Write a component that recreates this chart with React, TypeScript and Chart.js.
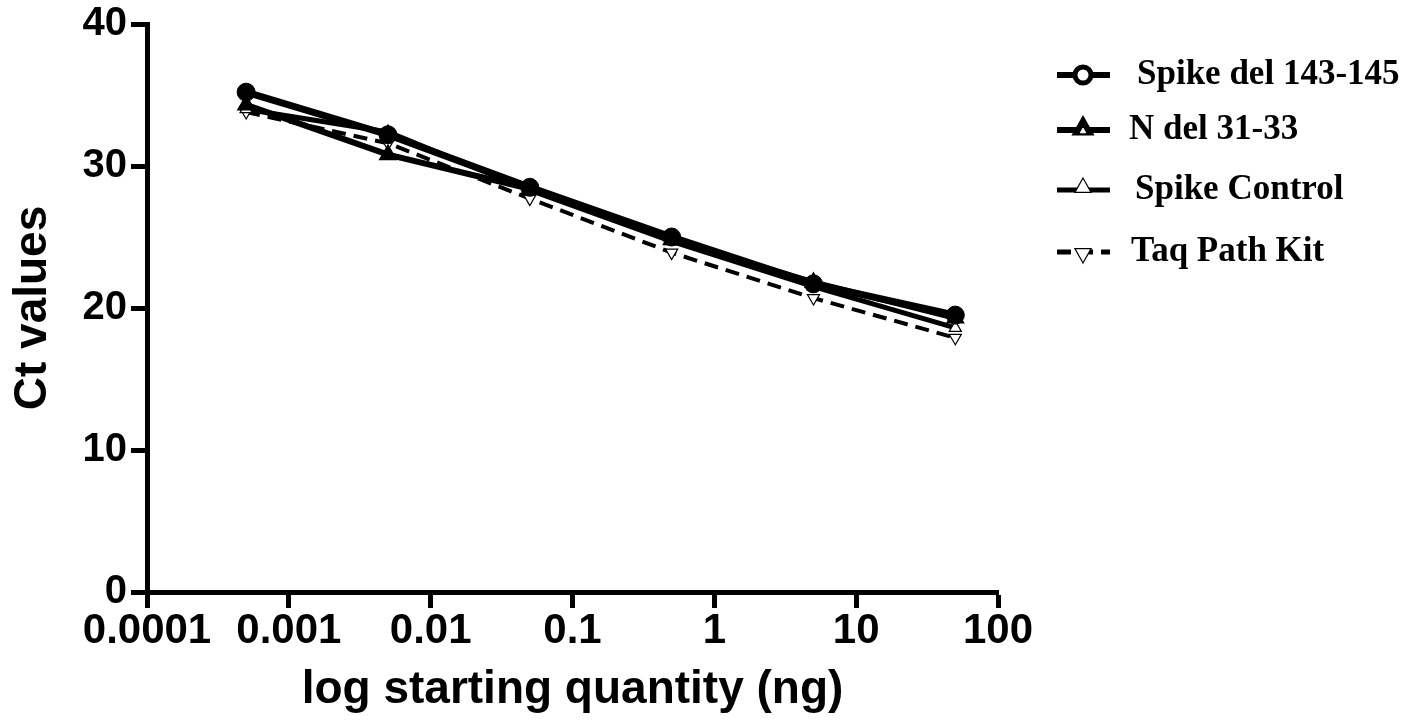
import React, { useEffect, useRef } from "react";
import { Chart, registerables } from "chart.js";

Chart.register(...registerables);

// ---- data ----
const quantities = [0.0005, 0.005, 0.05, 0.5, 5, 50];
const spikeDel = [35.2, 32.2, 28.5, 25.0, 21.7, 19.5];
const nDel = [34.3, 30.8, 28.4, 24.8, 21.8, 19.3];
const spikeControl = [34.0, 32.4, 28.3, 24.7, 21.5, 18.6];
const taqPath = [33.8, 31.6, 27.7, 23.9, 20.7, 17.9];

const seriesLabels = ["Spike del 143-145", "N del 31-33", "Spike Control", "Taq Path Kit"];
const xTickValues = [0.0001, 0.001, 0.01, 0.1, 1, 10, 100];
const yTickValues = [0, 10, 20, 30, 40];
const xTitle = "log starting quantity (ng)";
const yTitle = "Ct values";

const toPoints = (ys: number[]) => quantities.map((x, i) => ({ x, y: ys[i] }));

const SANS = '"Liberation Sans", Arial, sans-serif';
const SERIF = '"Liberation Serif", "Times New Roman", serif';

function drawTriangle(ctx: CanvasRenderingContext2D, x: number, y: number, r: number, down: boolean, fill: string, stroke: string, lw: number) {
  const s = down ? -1 : 1;
  ctx.beginPath();
  ctx.moveTo(x, y - s * r);
  ctx.lineTo(x + r * 0.9, y + s * r * 0.6);
  ctx.lineTo(x - r * 0.9, y + s * r * 0.6);
  ctx.closePath();
  ctx.fillStyle = fill;
  ctx.fill();
  ctx.lineWidth = lw;
  ctx.strokeStyle = stroke;
  ctx.stroke();
}

const legendPlugin = {
  id: "customLegend",
  afterDraw(chart: any) {
    const ctx: CanvasRenderingContext2D = chart.ctx;
    const rows = [75, 130, 190, 252];
    const textX = [1137, 1129, 1135, 1131];
    const x0 = 1057;
    const x1 = 1110;
    const xm = 1083;
    ctx.save();
    ctx.lineCap = "butt";
    rows.forEach((y, i) => {
      ctx.strokeStyle = "#000";
      ctx.setLineDash(i === 3 ? [14, 8] : []);
      ctx.lineWidth = i === 3 ? 5 : i === 2 ? 5 : 6;
      ctx.beginPath();
      ctx.moveTo(x0, y);
      ctx.lineTo(x1, y);
      ctx.stroke();
      ctx.setLineDash([]);
      if (i === 0) {
        ctx.beginPath();
        ctx.arc(xm, y, 8, 0, Math.PI * 2);
        ctx.fillStyle = "#fff";
        ctx.fill();
        ctx.lineWidth = 5;
        ctx.strokeStyle = "#000";
        ctx.stroke();
      } else if (i === 1) {
        drawTriangle(ctx, xm, y - 2, 10, false, "#000", "#000", 3);
        drawTriangle(ctx, xm, y + 1, 3, false, "#fff", "#fff", 1);
      } else if (i === 2) {
        drawTriangle(ctx, xm, y - 3, 9, false, "#fff", "#000", 1.2);
      } else {
        drawTriangle(ctx, xm, y + 2, 9, true, "#fff", "#000", 1.2);
      }
      ctx.fillStyle = "#000";
      ctx.font = `bold 35px ${SERIF}`;
      ctx.textBaseline = "middle";
      ctx.textAlign = "left";
      ctx.fillText(seriesLabels[i], textX[i], y);
    });
    ctx.restore();
  },
};

export default function App() {
  const ref = useRef<HTMLCanvasElement>(null);

  useEffect(() => {
    document.body.style.margin = "0";
    Chart.defaults.color = "#000";
    const canvas = ref.current!;
    const chart = new Chart(canvas, {
      type: "line",
      data: {
        datasets: [
          {
            label: seriesLabels[0],
            data: toPoints(spikeDel),
            borderColor: "#000",
            borderWidth: 7,
            pointStyle: "circle",
            pointRadius: 9,
            pointBackgroundColor: "#000",
            pointBorderColor: "#000",
            pointBorderWidth: 1,
            tension: 0,
          },
          {
            label: seriesLabels[1],
            data: toPoints(nDel),
            borderColor: "#000",
            borderWidth: 6,
            pointStyle: "triangle",
            pointRadius: 9,
            pointBackgroundColor: "#000",
            pointBorderColor: "#000",
            pointBorderWidth: 2,
            tension: 0,
          },
          {
            label: seriesLabels[2],
            data: toPoints(spikeControl),
            borderColor: "#000",
            borderWidth: 5,
            pointStyle: "triangle",
            pointRadius: 7,
            pointBackgroundColor: "#fff",
            pointBorderColor: "#000",
            pointBorderWidth: 1.2,
            tension: 0,
          },
          {
            label: seriesLabels[3],
            data: toPoints(taqPath),
            borderColor: "#000",
            borderWidth: 4,
            borderDash: [14, 8],
            pointStyle: "triangle",
            pointRotation: 180,
            pointRadius: 7,
            pointBackgroundColor: "#fff",
            pointBorderColor: "#000",
            pointBorderWidth: 1.2,
            tension: 0,
          },
        ],
      },
      options: {
        responsive: false,
        animation: false,
        devicePixelRatio: 1,
        layout: { padding: { top: 24, right: 410, left: 0, bottom: 0 } },
        plugins: { legend: { display: false }, tooltip: { enabled: false } },
        scales: {
          x: {
            type: "logarithmic",
            min: 0.0001,
            max: 100,
            afterBuildTicks: (s: any) => {
              s.ticks = xTickValues.map((v) => ({ value: v }));
            },
            afterFit: (s: any) => {
              s.height = 134;
            },
            ticks: {
              autoSkip: false,
              maxRotation: 0,
              padding: 2,
              color: "#000",
              font: { family: SANS, size: 42, weight: "bold", lineHeight: 1 },
              callback: (v: any) => String(Number(v)),
            },
            grid: {
              display: true,
              drawOnChartArea: false,
              drawTicks: true,
              tickLength: 16,
              tickWidth: 5,
              tickColor: "#000",
            },
            border: { display: true, color: "#000", width: 5 },
            title: {
              display: true,
              text: xTitle,
              color: "#000",
              font: { family: SANS, size: 46, weight: "bold", lineHeight: 1.2 },
              padding: { top: 0, bottom: 8 },
            },
          },
          y: {
            type: "linear",
            min: 0,
            max: 40,
            afterBuildTicks: (s: any) => {
              s.ticks = yTickValues.map((v) => ({ value: v }));
            },
            afterFit: (s: any) => {
              s.width = 147;
            },
            ticks: {
              padding: 4,
              color: "#000",
              font: { family: SANS, size: 40, weight: "bold", lineHeight: 1 },
            },
            grid: {
              display: true,
              drawOnChartArea: false,
              drawTicks: true,
              tickLength: 16,
              tickWidth: 5,
              tickColor: "#000",
            },
            border: { display: true, color: "#000", width: 5 },
            title: {
              display: true,
              text: yTitle,
              color: "#000",
              font: { family: SANS, size: 46, weight: "bold", lineHeight: 1.2 },
              padding: { top: 6, bottom: 0 },
            },
          },
        },
      },
      plugins: [legendPlugin],
    } as any);
    return () => chart.destroy();
  }, []);

  return (
    <div style={{ width: 1408, height: 726, background: "#fff" }}>
      <canvas ref={ref} width={1408} height={726} style={{ display: "block" }} />
    </div>
  );
}
